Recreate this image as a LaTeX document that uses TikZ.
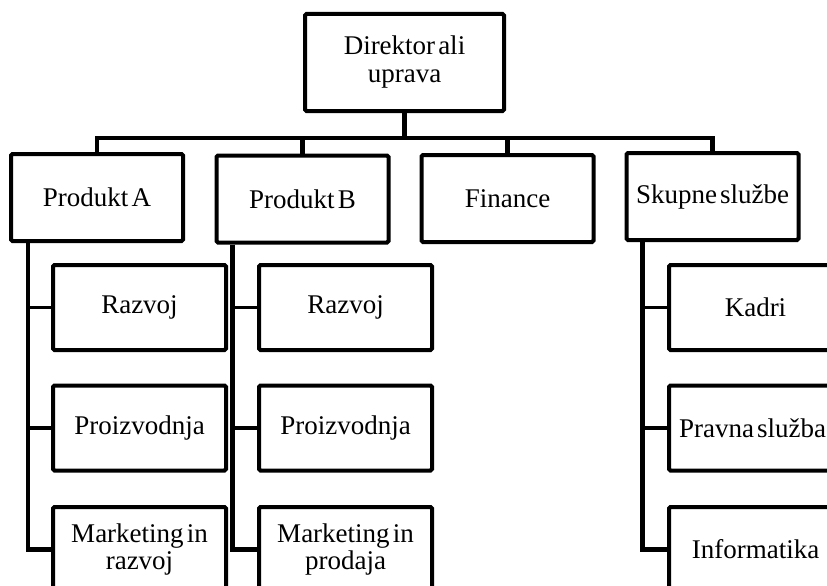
\documentclass[tikz,border=0pt]{standalone}
\usepackage{fontspec}
\setmainfont[WordSpace=0.45]{Liberation Serif}
\begin{document}
\begin{tikzpicture}[x=1pt,y=-1pt,
  unit/.style={draw, line width=4pt, rounded corners=1.5pt, fill=white,
    align=center, inner sep=0pt, font=\fontsize{27}{28}\selectfont},
  headbox/.style={unit, minimum width=199pt, minimum height=97pt},
  deptbox/.style={unit, minimum width=172pt, minimum height=87pt},
  subbox/.style={unit, minimum width=173pt, minimum height=85pt},
  link/.style={line width=4.5pt},
  stub/.style={line width=3.5pt}]
\useasboundingbox (0,0) rectangle (827,586);
\clip (0,0) rectangle (827,586);

% horizontal bus under the head
\coordinate (bus) at (0,138);

% head
\node[headbox] (head) at (404.5,62.5) {Direktor ali\\uprava};

% departments
\node[deptbox] (pa) at (97,197.5)  {Produkt A};
\node[deptbox] (pb) at (302.5,199) {Produkt B};
\node[deptbox] (fin) at (507.5,198.5) {Finance};
\node[deptbox] (sk) at (712.5,196.5) {Skupne službe};

% units under Produkt A
\node[subbox] (a1) at (139.5,307.5) {Razvoj};
\node[subbox] (a2) at (139.5,428)   {Proizvodnja};
\node[subbox] (a3) at (139.5,549.5) {Marketing in\\razvoj};

% units under Produkt B
\node[subbox] (b1) at (345.5,307.5) {Razvoj};
\node[subbox] (b2) at (345.5,428)   {Proizvodnja};
\node[subbox] (b3) at (345.5,549.5) {Marketing in\\prodaja};

% units under Skupne službe
\node[subbox] (s1) at (755.5,307.5) {Kadri};
\node[subbox] (s2) at (755.5,428)   {\hspace*{-6pt}Pravna služba};
\node[subbox] (s3) at (755.5,549.5) {Informatika};

% head to bus, bus to departments
\draw[link] (head.south) -- (head.south |- bus);
\draw[link] (pa.north) -- (pa.north |- bus) -- (sk.north |- bus) -- (sk.north);
\draw[link] (pb.north) -- (pb.north |- bus);
\draw[link] (fin.north) -- (fin.north |- bus);

% vertical spines with side stubs
\coordinate (ta) at ([xshift=19pt]pa.south west);
\coordinate (tb) at ([xshift=18pt]pb.south west);
\coordinate (ts) at ([xshift=18pt]sk.south west);

\draw[link] (ta) -- (ta |- a3.west) -- (a3.west);
\draw[stub] (ta |- a1.west) -- (a1.west);
\draw[stub] (ta |- a2.west) -- (a2.west);

\draw[link] (tb) -- (tb |- b3.west) -- (b3.west);
\draw[stub] (tb |- b1.west) -- (b1.west);
\draw[stub] (tb |- b2.west) -- (b2.west);

\draw[link] (ts) -- (ts |- s3.west) -- (s3.west);
\draw[stub] (ts |- s1.west) -- (s1.west);
\draw[stub] (ts |- s2.west) -- (s2.west);
\end{tikzpicture}
\end{document}
